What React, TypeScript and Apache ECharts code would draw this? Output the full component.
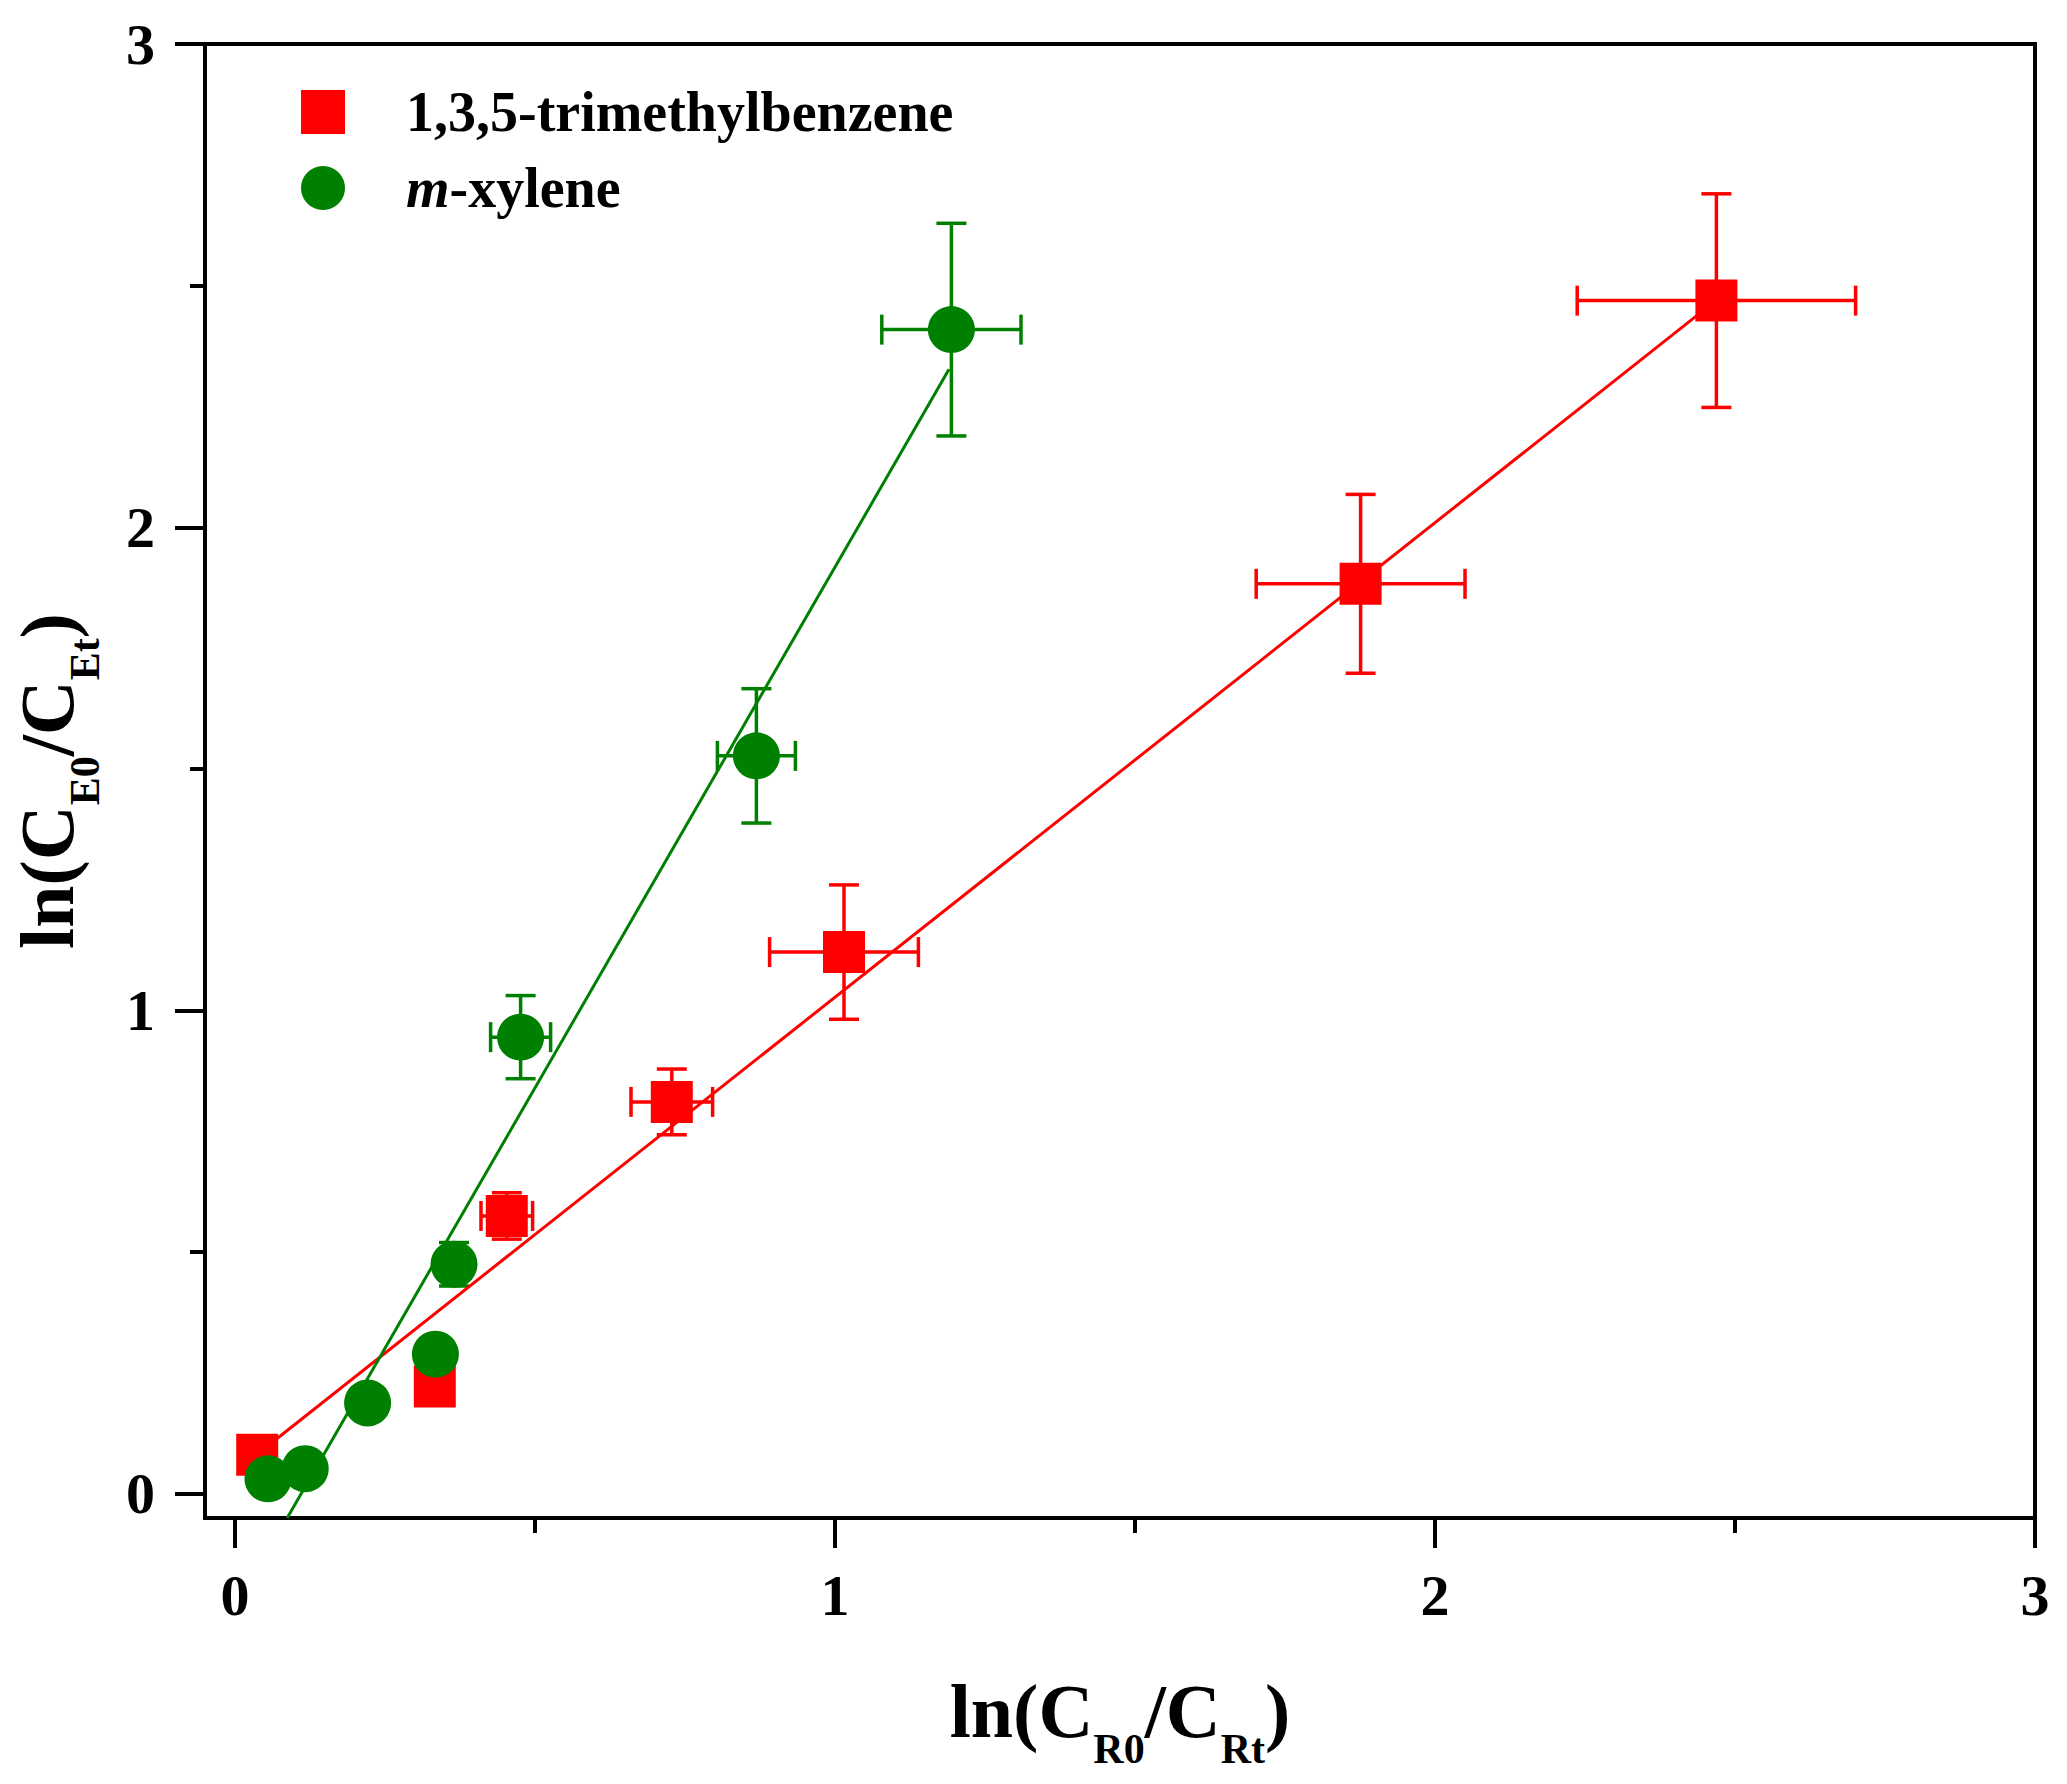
import React, { useEffect, useRef } from "react";
import * as echarts from "echarts";

const FONT = "'Liberation Serif', 'Times New Roman', serif";
const RED = "#ff0000";
const GREEN = "#008000";

const TMB_NAME = "1,3,5-trimethylbenzene";
const XYL_NAME = "m-xylene";

// 1,3,5-trimethylbenzene: ln(CR0/CRt), ln(CE0/CEt) and their error bars
const tmbX = [0.037, 0.333, 0.453, 0.728, 1.015, 1.876, 2.469];
const tmbY = [0.081, 0.222, 0.575, 0.811, 1.121, 1.883, 2.469];
const tmbXErr = [0, 0, 0.043, 0.068, 0.124, 0.174, 0.232];
const tmbYErr = [0, 0, 0.048, 0.068, 0.139, 0.185, 0.221];

// m-xylene
const xylX = [0.055, 0.117, 0.221, 0.334, 0.365, 0.476, 0.869, 1.194];
const xylY = [0.031, 0.052, 0.188, 0.289, 0.475, 0.945, 1.527, 2.409];
const xylXErr = [0, 0, 0, 0, 0.02, 0.05, 0.065, 0.116];
const xylYErr = [0, 0, 0, 0, 0.045, 0.086, 0.139, 0.22];

// linear fits, end points
const tmbFitX = [0.037, 2.469];
const tmbFitY = [0.082, 2.47];
const xylFitX = [0.087, 1.19];
const xylFitY = [-0.05, 2.327];

const majorTicks = [0, 1, 2, 3];
const minorTicks = [0.5, 1.5, 2.5];

const AX_MIN = -0.05;
const AX_MAX = 3;
const CAP = 15;

const textBase = { fontFamily: FONT, fontWeight: "bold" as const, color: "#000" };

const nameRich = {
  m: { ...textBase, fontSize: 76, lineHeight: 76 },
  s: { ...textBase, fontSize: 42, lineHeight: 76, padding: [75, 0, 0, 0] },
};

function errorRenderer(color: string) {
  return (_params: any, api: any) => {
    const x = api.value(0);
    const y = api.value(1);
    const ex = api.value(2);
    const ey = api.value(3);
    const style = { stroke: color, lineWidth: 3.5 };
    const kids: any[] = [];
    const seg = (x1: number, y1: number, x2: number, y2: number) =>
      kids.push({ type: "line", shape: { x1, y1, x2, y2 }, style });
    if (ex > 0) {
      const l = api.coord([x - ex, y]);
      const r = api.coord([x + ex, y]);
      seg(l[0], l[1], r[0], r[1]);
      seg(l[0], l[1] - CAP, l[0], l[1] + CAP);
      seg(r[0], r[1] - CAP, r[0], r[1] + CAP);
    }
    if (ey > 0) {
      const t = api.coord([x, y + ey]);
      const b = api.coord([x, y - ey]);
      seg(t[0], t[1], b[0], b[1]);
      seg(t[0] - CAP, t[1], t[0] + CAP, t[1]);
      seg(b[0] - CAP, b[1], b[0] + CAP, b[1]);
    }
    return { type: "group", children: kids };
  };
}

function axis(kind: "x" | "y", grid: number, ticks: number[], len: number, withLabels: boolean) {
  return {
    type: "value",
    gridIndex: grid,
    min: AX_MIN,
    max: AX_MAX,
    position: kind === "x" ? "bottom" : "left",
    axisLine: { show: withLabels, onZero: false, lineStyle: { color: "#000", width: 4 } },
    axisTick: { show: true, customValues: ticks, length: len, lineStyle: { color: "#000", width: 4 } },
    axisLabel: withLabels
      ? { show: true, customValues: ticks, fontSize: 58, margin: kind === "x" ? 48 : 50, ...textBase }
      : { show: false },
    splitLine: { show: false },
  };
}

export default function App() {
  const ref = useRef<HTMLDivElement | null>(null);

  useEffect(() => {
    if (!ref.current) return;
    const chart = echarts.init(ref.current, null, { renderer: "svg" });

    const gridBox = { left: 205, right: 32, top: 44, bottom: 266, outerBoundsMode: "none" };
    const xMain: any = axis("x", 0, majorTicks, 30, true);
    xMain.name = "{m|ln(C}{s|R0}{m|/C}{s|Rt}{m|)}";
    xMain.nameLocation = "middle";
    xMain.nameGap = 155;
    xMain.nameTextStyle = { rich: nameRich };
    const yMain: any = axis("y", 0, majorTicks, 30, true);
    yMain.name = "{m|ln(C}{s|E0}{m|/C}{s|Et}{m|)}";
    yMain.nameLocation = "middle";
    yMain.nameGap = 120;
    yMain.nameTextStyle = { rich: nameRich };

    const pts = (xs: number[], ys: number[]) => xs.map((v, i) => [v, ys[i]]);
    const errs = (xs: number[], ys: number[], ex: number[], ey: number[]) =>
      xs.map((v, i) => [v, ys[i], ex[i], ey[i]]);

    chart.setOption({
      animation: false,
      backgroundColor: "#fff",
      grid: [
        { ...gridBox, show: true, borderColor: "#000", borderWidth: 4, backgroundColor: "transparent" },
        { ...gridBox, show: false },
      ],
      xAxis: [xMain, axis("x", 1, minorTicks, 15, false)],
      yAxis: [yMain, axis("y", 1, minorTicks, 15, false)],
      legend: {
        orient: "vertical",
        left: 296,
        top: 79,
        itemWidth: 44,
        itemHeight: 44,
        itemGap: 20,
        selectedMode: false,
        data: [
          { name: TMB_NAME, icon: "rect", itemStyle: { opacity: 1 } },
          { name: XYL_NAME, icon: "circle", itemStyle: { opacity: 1 } },
        ],
        formatter: (n: string) => (n === XYL_NAME ? "{i|m}{b|-xylene}" : "{b|" + n + "}"),
        textStyle: {
          ...textBase,
          fontSize: 56,
          padding: [0, 0, 0, 56],
          rich: {
            b: { ...textBase, fontSize: 56 },
            i: { ...textBase, fontSize: 56, fontStyle: "italic" },
          },
        },
      },
      series: [
        {
          type: "custom",
          name: "tmb-err",
          renderItem: errorRenderer(RED),
          data: errs(tmbX, tmbY, tmbXErr, tmbYErr),
          encode: { x: 0, y: 1 },
          z: 1,
          silent: true,
        },
        {
          type: "custom",
          name: "xyl-err",
          renderItem: errorRenderer(GREEN),
          data: errs(xylX, xylY, xylXErr, xylYErr),
          encode: { x: 0, y: 1 },
          z: 1,
          silent: true,
        },
        {
          type: "scatter",
          name: TMB_NAME,
          symbol: "rect",
          symbolSize: 42,
          itemStyle: { color: RED, opacity: 1 },
          data: pts(tmbX, tmbY),
          z: 2,
        },
        {
          type: "scatter",
          name: XYL_NAME,
          symbol: "circle",
          symbolSize: 47,
          itemStyle: { color: GREEN, opacity: 1 },
          data: pts(xylX, xylY),
          z: 3,
        },
        {
          type: "line",
          name: "tmb-fit",
          showSymbol: false,
          lineStyle: { color: RED, width: 3 },
          data: pts(tmbFitX, tmbFitY),
          z: 4,
        },
        {
          type: "line",
          name: "xyl-fit",
          showSymbol: false,
          lineStyle: { color: GREEN, width: 3 },
          data: pts(xylFitX, xylFitY),
          z: 4,
        },
      ],
    });

    return () => chart.dispose();
  }, []);

  return (
    <div
      ref={ref}
      style={{ position: "absolute", left: 0, top: 0, width: 2067, height: 1784, background: "#fff" }}
    />
  );
}
